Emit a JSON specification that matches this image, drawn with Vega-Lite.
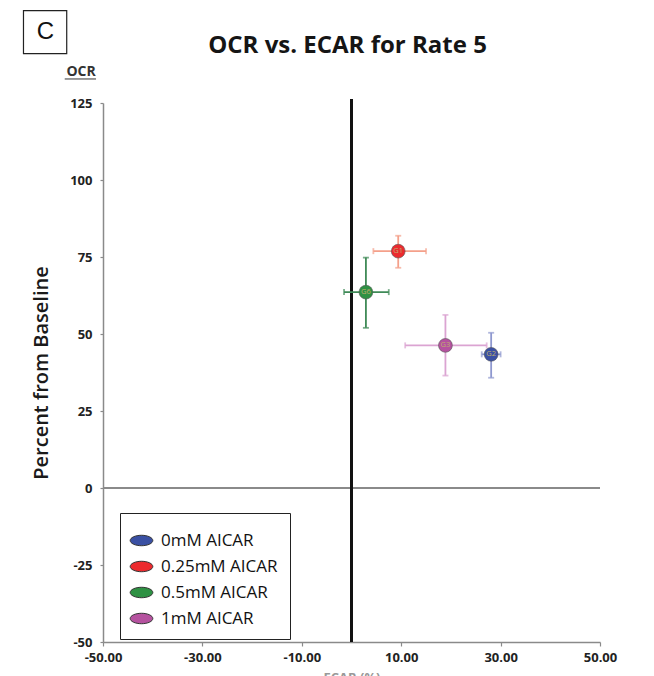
{
  "$schema": "https://vega.github.io/schema/vega-lite/v6.json",
  "width": 497,
  "height": 539,
  "autosize": {"type": "none"},
  "padding": {"left": 103, "top": 103, "right": 54, "bottom": 34},
  "background": "white",
  "config": {
    "view": {"stroke": null},
    "font": "Open Sans",
    "axis": {
      "grid": false,
      "domainColor": "#8a8a8a",
      "domainWidth": 1.5,
      "tickColor": "#8a8a8a",
      "tickWidth": 1.2,
      "labelFont": "Open Sans",
      "labelFontWeight": "bold",
      "labelFontSize": 13,
      "labelColor": "#222222",
      "titleFont": "Open Sans"
    },
    "axisX": {"tickSize": 4, "labelPadding": 5},
    "axisY": {"tickSize": 3, "labelPadding": 8}
  },
  "datasets": {
    "pts": [
      {"group": "0mM AICAR", "code": "G2", "ecar": 28.1, "ocr": 43.4, "ecar_lo": 26.2, "ecar_hi": 30.0, "ocr_lo": 35.8, "ocr_hi": 50.4},
      {"group": "0.25mM AICAR", "code": "G1", "ecar": 9.4, "ocr": 76.9, "ecar_lo": 4.4, "ecar_hi": 15.0, "ocr_lo": 71.5, "ocr_hi": 81.9},
      {"group": "0.5mM AICAR", "code": "G6", "ecar": 2.9, "ocr": 63.6, "ecar_lo": -1.5, "ecar_hi": 7.5, "ocr_lo": 52.0, "ocr_hi": 74.8},
      {"group": "1mM AICAR", "code": "G3", "ecar": 18.9, "ocr": 46.3, "ecar_lo": 10.8, "ecar_hi": 27.2, "ocr_lo": 36.5, "ocr_hi": 56.2}
    ],
    "ref": [{"zero": 0, "top": 126.3, "bottom": -50}],
    "box": [{"x1": -66.0, "x2": -57.3, "y1": 155.0, "y2": 141.0}],
    "panel": [{"label": "C", "x": -61.6, "y": 148.0}],
    "heading": [{"label": "OCR vs. ECAR for Rate 5", "x": -0.8, "y": 141.2}],
    "ylabel": [{"label": "OCR", "x": -54.4, "y": 135.1, "ux1": -57.7, "ux2": -51.4, "uy": 132.8}]
  },
  "layer": [
    {
      "data": {"name": "ref"},
      "mark": {"type": "rule", "color": "#8a8a8a", "strokeWidth": 2},
      "encoding": {"y": {"field": "zero", "type": "quantitative"}}
    },
    {
      "data": {"name": "ref"},
      "mark": {"type": "rule", "color": "#111111", "strokeWidth": 3},
      "encoding": {
        "x": {"field": "zero", "type": "quantitative"},
        "y": {"field": "bottom", "type": "quantitative"},
        "y2": {"field": "top"}
      }
    },
    {
      "data": {"name": "pts"},
      "mark": {"type": "errorbar", "ticks": {"size": 6}, "thickness": 1.8},
      "encoding": {
        "x": {"field": "ecar_lo", "type": "quantitative", "title": "ECAR (%)"},
        "x2": {"field": "ecar_hi"},
        "y": {"field": "ocr", "type": "quantitative", "title": "Percent from Baseline"},
        "color": {
          "field": "group", "type": "nominal", "legend": null,
          "scale": {"domain": ["0mM AICAR", "0.25mM AICAR", "0.5mM AICAR", "1mM AICAR"],
                    "range": ["#8e98cf", "#f4a08a", "#3f8a57", "#dba4d2"]}
        }
      }
    },
    {
      "data": {"name": "pts"},
      "mark": {"type": "errorbar", "ticks": {"size": 6}, "thickness": 1.8},
      "encoding": {
        "y": {"field": "ocr_lo", "type": "quantitative", "title": "Percent from Baseline"},
        "y2": {"field": "ocr_hi"},
        "x": {"field": "ecar", "type": "quantitative", "title": "ECAR (%)"},
        "color": {
          "field": "group", "type": "nominal", "legend": null,
          "scale": {"domain": ["0mM AICAR", "0.25mM AICAR", "0.5mM AICAR", "1mM AICAR"],
                    "range": ["#8e98cf", "#f4a08a", "#3f8a57", "#dba4d2"]}
        }
      }
    },
    {
      "data": {"name": "pts"},
      "mark": {"type": "point", "filled": true, "shape": "circle", "size": 190, "opacity": 1, "stroke": "#555555", "strokeWidth": 0.6},
      "encoding": {
        "x": {
          "field": "ecar", "type": "quantitative",
          "scale": {"domain": [-50, 50], "nice": false, "zero": false},
          "axis": {"title": "ECAR (%)", "values": [-50, -30, -10, 10, 30, 50],
                   "labelExpr": "replace(format(datum.value, '.2f'), '\u2212', '-')",
                   "labelFlush": false, "labelOverlap": false, "labelBound": false,
                   "titleFontSize": 13, "titleFontWeight": "bold", "titleColor": "#999999", "titlePadding": 7}
        },
        "y": {
          "field": "ocr", "type": "quantitative",
          "scale": {"domain": [-50, 125], "nice": false, "zero": false},
          "axis": {"title": "Percent from Baseline", "values": [-50, -25, 0, 25, 50, 75, 100, 125],
                   "labelExpr": "replace(format(datum.value, 'd'), '\u2212', '-')",
                   "labelFlush": false, "labelOverlap": false,
                   "titleFontSize": 20, "titleFontWeight": 600, "titleColor": "#1a1a1a", "titlePadding": 18}
        },
        "color": {
          "field": "group", "type": "nominal",
          "scale": {"domain": ["0mM AICAR", "0.25mM AICAR", "0.5mM AICAR", "1mM AICAR"],
                    "range": ["#3a50a3", "#ec2a2e", "#2e9143", "#b5529f"]},
          "legend": {
            "title": " ",
            "titleFontSize": 4,
            "titlePadding": 2,
            "orient": "none",
            "legendX": 17,
            "legendY": 410,
            "strokeColor": "#222222",
            "fillColor": "white",
            "padding": 12,
            "rowPadding": 8,
            "labelFont": "Open Sans",
            "labelFontSize": 17,
            "labelColor": "#111111",
            "labelOffset": 10,
            "symbolType": "M-1.3,0 A1.3,0.6 0 1,0 1.3,0 A1.3,0.6 0 1,0 -1.3,0 Z",
            "symbolSize": 303,
            "symbolStrokeColor": "#333333",
            "symbolStrokeWidth": 1
          }
        }
      }
    },
    {
      "data": {"name": "pts"},
      "mark": {"type": "text", "fontSize": 7.5, "color": "#bfae6e", "font": "Open Sans"},
      "encoding": {
        "x": {"field": "ecar", "type": "quantitative"},
        "y": {"field": "ocr", "type": "quantitative"},
        "text": {"field": "code"}
      }
    },
    {
      "data": {"name": "box"},
      "mark": {"type": "rect", "fill": "white", "stroke": "#222222", "strokeWidth": 1.2},
      "encoding": {
        "x": {"field": "x1", "type": "quantitative"},
        "x2": {"field": "x2"},
        "y": {"field": "y1", "type": "quantitative"},
        "y2": {"field": "y2"}
      }
    },
    {
      "data": {"name": "panel"},
      "mark": {"type": "text", "font": "Liberation Sans", "fontSize": 24, "color": "#111111", "baseline": "middle", "align": "center"},
      "encoding": {
        "x": {"field": "x", "type": "quantitative"},
        "y": {"field": "y", "type": "quantitative"},
        "text": {"field": "label"}
      }
    },
    {
      "data": {"name": "heading"},
      "mark": {"type": "text", "font": "Open Sans", "fontSize": 24, "fontWeight": "bold", "color": "#151515", "baseline": "alphabetic", "align": "center"},
      "encoding": {
        "x": {"field": "x", "type": "quantitative"},
        "y": {"field": "y", "type": "quantitative"},
        "text": {"field": "label"}
      }
    },
    {
      "data": {"name": "ylabel"},
      "mark": {"type": "text", "font": "Open Sans", "fontSize": 14, "fontWeight": "bold", "color": "#333333", "baseline": "middle", "align": "center"},
      "encoding": {
        "x": {"field": "x", "type": "quantitative"},
        "y": {"field": "y", "type": "quantitative"},
        "text": {"field": "label"}
      }
    },
    {
      "data": {"name": "ylabel"},
      "mark": {"type": "rule", "color": "#333333", "strokeWidth": 1},
      "encoding": {
        "x": {"field": "ux1", "type": "quantitative"},
        "x2": {"field": "ux2"},
        "y": {"field": "uy", "type": "quantitative"}
      }
    }
  ],
  "resolve": {"scale": {"color": "independent"}}
}
